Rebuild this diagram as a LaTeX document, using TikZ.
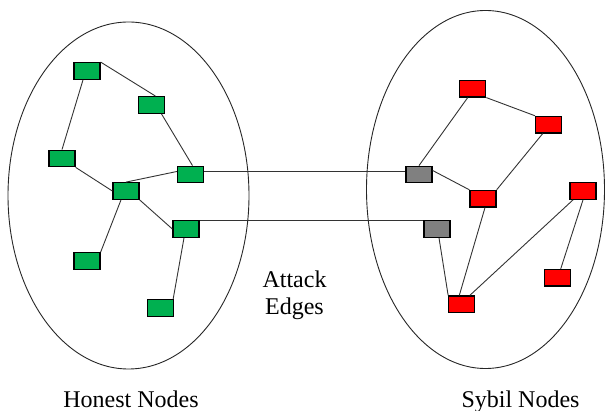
\documentclass[tikz,border=0pt]{standalone}
\usepackage{fontspec}
\setmainfont{Liberation Serif}
\begin{document}
\begin{tikzpicture}[x=1pt,y=-1pt,
  peer/.style={draw=black,line width=1.3pt,minimum width=26pt,minimum height=16.5pt,inner sep=0pt},
  honest/.style={peer,fill=honestgreen},
  sybil/.style={peer,fill=sybilred},
  gate/.style={peer,fill=gategray},
  link/.style={draw=black!80,line width=0.9pt},
  region/.style={draw=black!85,line width=0.9pt},
  caption/.style={font=\fontsize{24}{27}\selectfont,inner sep=0pt}]
\definecolor{honestgreen}{RGB}{0,176,80}
\definecolor{sybilred}{RGB}{255,0,0}
\definecolor{gategray}{RGB}{128,128,128}
\useasboundingbox (0,0) rectangle (605,411);

% the two regions
\draw[region] (128.5,195.5) ellipse [x radius=120.5pt, y radius=173.5pt];
\draw[region] (485.5,189.5) ellipse [x radius=119pt, y radius=179pt];

% honest region
\node[honest] (h1) at (87,71) {};
\node[honest] (h2) at (151.5,105) {};
\node[honest] (h3) at (62,158.5) {};
\node[honest] (h4) at (190.5,174.5) {};
\node[honest] (h5) at (126,191) {};
\node[honest] (h6) at (186,229) {};
\node[honest] (h7) at (87,261) {};
\node[honest] (h8) at (160.5,308) {};

% sybil region
\node[gate] (g1) at (419,174.5) {};
\node[gate] (g2) at (437,229) {};
\node[sybil] (r1) at (472.7,88.7) {};
\node[sybil] (r2) at (548.7,124.7) {};
\node[sybil] (r3) at (483,198.7) {};
\node[sybil] (r4) at (583,191) {};
\node[sybil] (r5) at (557.7,277.8) {};
\node[sybil] (r6) at (461.8,304.3) {};

% honest edges
\draw[link] (h1.north east) -- ([xshift=4pt]h2.north);
\draw[link] ([xshift=-4pt]h1.south) -- (h3.north);
\draw[link] ([xshift=10pt]h2.south) -- ([xshift=2pt]h4.north);
\draw[link] (h3.south east) -- (h5.west);
\draw[link] (h5.north) -- ([yshift=3pt]h4.west);
\draw[link] ([xshift=-5pt]h5.south) -- (h7.north east);
\draw[link] (h5.south east) -- (h6.west);
\draw[link] ([xshift=-2pt]h6.south) -- ([xshift=-1pt]h8.north east);

% attack edges
\draw[link] ([yshift=3pt]h4.east) -- ([yshift=3pt]g1.west);
\draw[link] (h6.north east) -- (g2.north west);

% sybil edges
\draw[link] (g1.north) -- ([xshift=-5pt]r1.south);
\draw[link] ([yshift=4pt]g1.east) -- (r3.north west);
\draw[link] (r1.south east) -- (r2.north west);
\draw[link] ([xshift=-6pt]r2.south) -- (r3.north east);
\draw[link] ([xshift=2pt]r3.south) -- ([xshift=-2.5pt]r6.north);
\draw[link] ([xshift=2pt]g2.south) -- (r6.north west);
\draw[link] ([xshift=8pt]r6.north) -- ([xshift=-10pt]r4.south);
\draw[link] (r4.south) -- ([xshift=3pt]r5.north);

% labels
\node[caption,align=center] (atk) at (294.5,295) {Attack\\Edges};
\node[caption,anchor=base] (hon) at (131,407) {Honest Nodes};
\node[caption,anchor=base] (syb) at (520.5,407) {Sybil Nodes};
\end{tikzpicture}
\end{document}
